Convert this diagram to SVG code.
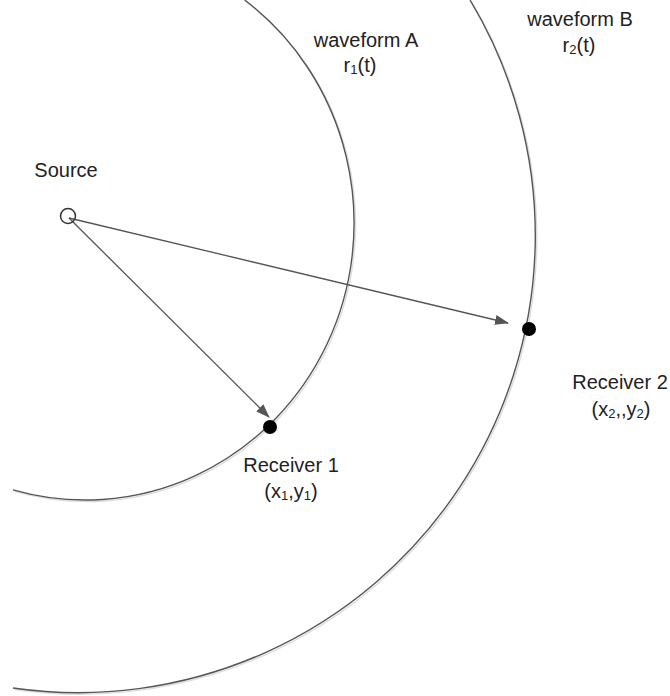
<svg xmlns="http://www.w3.org/2000/svg" width="670" height="696" viewBox="0 0 670 696">
<style>
.wave{fill:none;stroke:#555;stroke-width:1.4}
.shadow{fill:none;stroke:#dcdcdc;stroke-width:1.4}
.conn{fill:none;stroke:#555;stroke-width:1.3}
.lbl{font-family:"Liberation Sans",Arial,sans-serif;font-size:20px;fill:#222;text-anchor:middle}
.sub{font-size:13px}
</style>
<defs>
<marker id="ah" markerWidth="14" markerHeight="10" refX="13" refY="5" orient="auto" markerUnits="userSpaceOnUse">
<path d="M0,0 L14,5 L0,10 Z" fill="#555"/>
</marker>
<path id="arcA" d="M 13 489.9 A 269 277 0 0 0 244.6 0"/>
<path id="arcB" d="M 13 688 A 457.2 457.2 0 0 0 470 0"/>
</defs>
<rect width="670" height="696" fill="#fff"/>
<g id="waveformA">
<use href="#arcA" class="shadow" transform="translate(1.5,1.5)"/>
<use href="#arcA" class="wave"/>
</g>
<g id="waveformB">
<use href="#arcB" class="shadow" transform="translate(1.5,1.5)"/>
<use href="#arcB" class="wave"/>
</g>
<g id="connectors">
<line class="conn" x1="69" y1="218" x2="269" y2="417" marker-end="url(#ah)"/>
<line class="conn" x1="69" y1="218" x2="508" y2="323" marker-end="url(#ah)"/>
</g>
<g id="source">
<circle cx="68" cy="216" r="7.5" fill="none" stroke="#333" stroke-width="1.5"/>
<text class="lbl" x="66" y="177">Source</text>
</g>
<g id="receiver1">
<circle cx="270" cy="427" r="7" fill="#000"/>
<text class="lbl" x="291" y="472">Receiver 1</text>
<text class="lbl" x="291" y="498">(x<tspan class="sub" dy="2">1</tspan><tspan dy="-2">,y</tspan><tspan class="sub" dy="2">1</tspan><tspan dy="-2">)</tspan></text>
</g>
<g id="receiver2">
<circle cx="529" cy="329" r="7" fill="#000"/>
<text class="lbl" x="620" y="389">Receiver 2</text>
<text class="lbl" x="621" y="416">(x<tspan class="sub" dy="2">2</tspan><tspan dy="-2">,,y</tspan><tspan class="sub" dy="2">2</tspan><tspan dy="-2">)</tspan></text>
</g>
<g id="labelA">
<text class="lbl" x="366" y="47">waveform A</text>
<text class="lbl" x="360" y="72">r<tspan class="sub" dy="2">1</tspan><tspan dy="-2">(t)</tspan></text>
</g>
<g id="labelB">
<text class="lbl" x="580" y="26">waveform B</text>
<text class="lbl" x="579" y="52">r<tspan class="sub" dy="2">2</tspan><tspan dy="-2">(t)</tspan></text>
</g>
</svg>
